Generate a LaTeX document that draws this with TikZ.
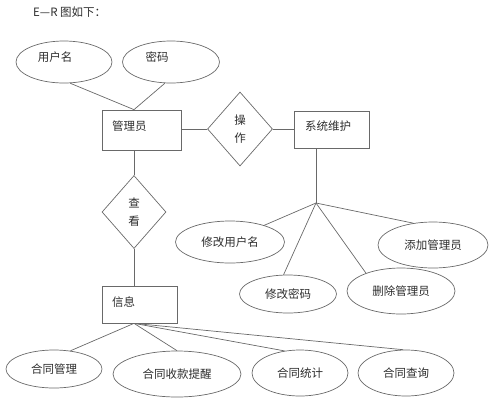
\documentclass[tikz,border=0pt]{standalone}
\usepackage{fontspec}
\setmainfont{Liberation Serif}
\newfontfamily\cjk{Noto Sans CJK SC}
\usetikzlibrary{shapes.geometric}
\definecolor{lc}{RGB}{105,105,105}
\definecolor{tc}{RGB}{45,45,45}
\begin{document}
\begin{tikzpicture}[x=1pt,y=-1pt,
  conn/.style={draw=lc, line width=0.7pt},
  entity/.style={draw=lc, line width=0.7pt, rectangle, inner sep=0pt},
  rel/.style={draw=lc, line width=0.7pt, diamond, inner sep=0pt, align=center,
     text=tc, font=\cjk\fontsize{11.5}{18}\selectfont},
  attr/.style={draw=lc, line width=0.7pt, ellipse, inner sep=0pt, text=tc,
     font=\cjk\fontsize{11.5}{14}\selectfont},
  txt/.style={inner sep=0pt, text=tc, font=\cjk\fontsize{11.5}{14}\selectfont}]
\useasboundingbox (0,0) rectangle (500,402);

% title
\node[txt, anchor=west] (title) at (33,12) {E—R 图如下：};

% entities
\node[entity, minimum width=79pt, minimum height=40pt] (admin) at (141.5,130) {};
\node[txt, anchor=west] (admintxt) at (112,126) {管理员};
\node[entity, minimum width=75pt, minimum height=37pt] (sys) at (331.5,129.5) {};
\node[txt, anchor=west] (systxt) at (305,126) {系统维护};
\node[entity, minimum width=75pt, minimum height=37pt] (info) at (139.5,304.5) {};
\node[txt, anchor=west] (infotxt) at (112,302) {信息};

% relationships
\node[rel, minimum width=65pt, minimum height=74pt] (op) at (240,129) {操\\作};
\node[rel, minimum width=64pt, minimum height=73pt] (cha) at (134,212) {查\\看};

% attributes of admin
\node[attr, minimum width=96pt, minimum height=42pt] (user) at (64,62) {};
\node[txt] (usertxt) at (55,57) {用户名};
\node[attr, minimum width=97pt, minimum height=42pt] (pwd) at (171,62) {};
\node[txt] (pwdtxt) at (157,57) {密码};

% system maintenance attributes
\node[attr, minimum width=109pt, minimum height=42pt] (m1) at (230,242) {修改用户名};
\node[attr, minimum width=110pt, minimum height=46pt] (m2) at (433,245) {添加管理员};
\node[attr, minimum width=97pt, minimum height=38pt] (m3) at (288,294) {修改密码};
\node[attr, minimum width=108pt, minimum height=46pt] (m4) at (401,291) {删除管理员};

% info attributes
\node[attr, minimum width=96pt, minimum height=38pt] (c1) at (54,369) {合同管理};
\node[attr, minimum width=128pt, minimum height=46pt] (c2) at (177,374) {合同收款提醒};
\node[attr, minimum width=96pt, minimum height=46pt] (c3) at (300,373) {合同统计};
\node[attr, minimum width=96pt, minimum height=46pt] (c4) at (406,373) {合同查询};

% junctions
\coordinate (atop) at (cha.north |- admin.north);
\coordinate (j1) at (316,203);
\coordinate (j2) at (cha.south |- info.south);

% connectors
\draw[conn] (user.286) -- (atop);
\draw[conn] (pwd.254) -- (atop);
\draw[conn] (op.west) -- (op.west -| admin.east);
\draw[conn] (op.east) -- (op.east -| sys.west);
\draw[conn] (cha.north |- admin.south) -- (cha.north);
\draw[conn] (cha.south) -- (cha.south |- info.north);
\draw[conn] (j1 |- sys.south) -- (j1);
\draw[conn] (j1) -- (m1.26);
\draw[conn] (j1) -- (m2.132);
\draw[conn] (j1) -- (m3.103);
\draw[conn] (j1) -- (m4.153);
\draw[conn] (j2) -- (c1.48);
\draw[conn] (j2) -- (c2.90);
\draw[conn] (j2) -- (c3.125);
\draw[conn] (j2) -- (c4.97);
\end{tikzpicture}
\end{document}
